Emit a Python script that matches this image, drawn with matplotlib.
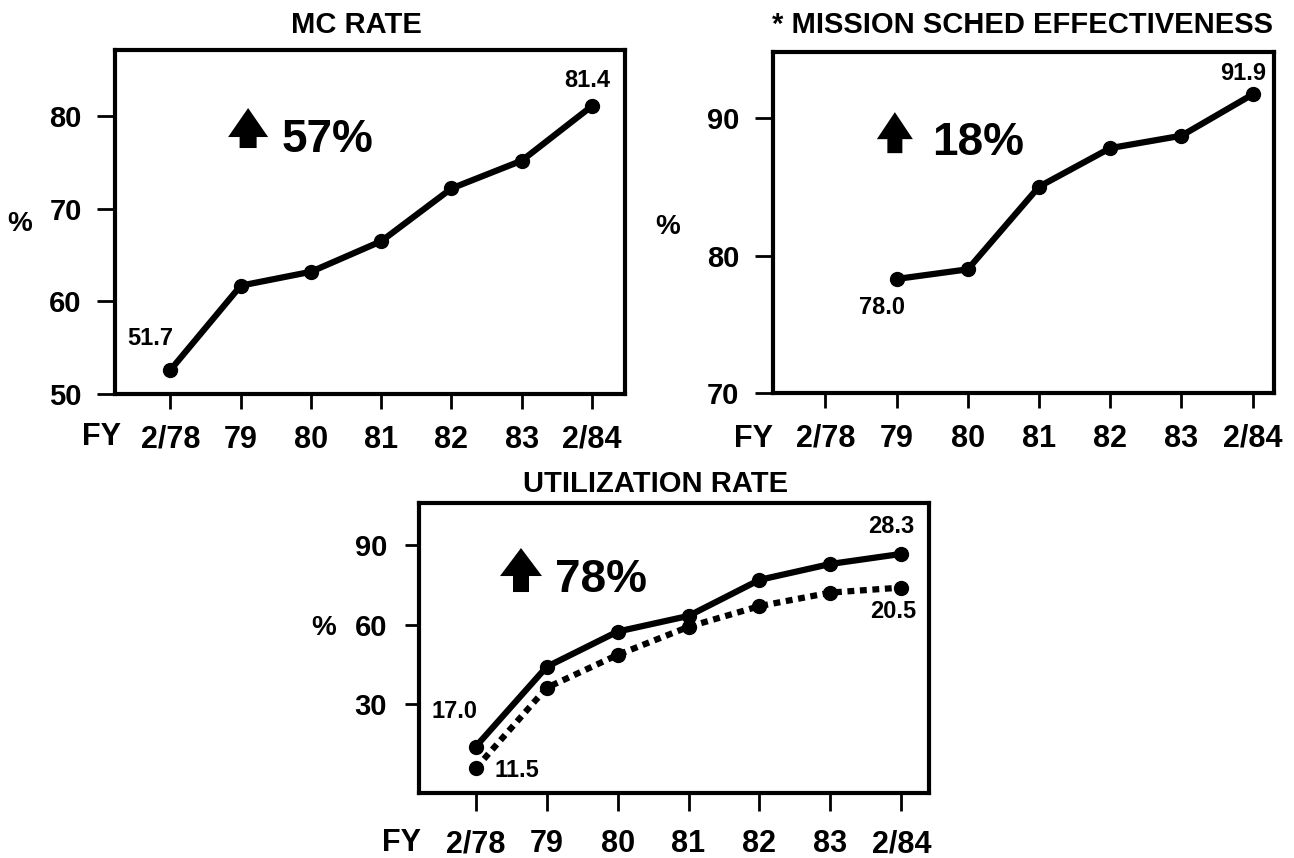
import matplotlib
matplotlib.use("Agg")
import matplotlib.pyplot as plt
import numpy as np
from matplotlib.patches import FancyArrow

plt.rcParams['font.family'] = ['Liberation Sans Narrow', 'Liberation Sans', 'DejaVu Sans']
plt.rcParams['font.weight'] = 'bold'

years = ['2/78', '79', '80', '81', '82', '83', '2/84']
mc_rate = [52.6, 61.7, 63.2, 66.5, 72.2, 75.2, 81.1]
mission_sched = [np.nan, 78.3, 79.0, 85.0, 87.8, 88.7, 91.7]
util_solid = [14.0, 44.1, 57.4, 63.3, 76.9, 82.9, 86.7]
util_dotted = [5.8, 36.2, 48.6, 59.2, 67.0, 72.1, 74.0]

W, H = 1294, 858
fig = plt.figure(figsize=(W / 100, H / 100), dpi=100)
x = np.arange(len(years))


def px_axes(left, top, right, bottom):
    # axes box given in pixels of the final image
    return fig.add_axes([left / W, 1 - bottom / H, (right - left) / W, (bottom - top) / H])


def style(ax, xlim, ylim, yticks, ylen, ypad, xlen, xpad):
    ax.set_xlim(xlim)
    ax.set_ylim(ylim)
    ax.set_xticks(x)
    ax.set_xticklabels(years, fontsize=22)
    ax.set_yticks(yticks)
    ax.tick_params(axis='y', labelsize=21, length=ylen, width=2, pad=ypad, direction='out')
    ax.tick_params(axis='x', length=xlen, width=2, pad=xpad, direction='out')
    for s in ax.spines.values():
        s.set_linewidth(3)


def up_arrow(ax, cx, by, h, head_w, head_l, stem):
    bb = ax.get_position()
    aw, ah = bb.width * W, bb.height * H
    ax.add_patch(FancyArrow(cx, by, 0, h / ah, width=stem / aw, head_width=head_w / aw,
                            head_length=head_l / ah, length_includes_head=True,
                            transform=ax.transAxes, color='black', lw=0, clip_on=False))


def label(ax, text, xv, yv, dx, dy):
    ax.annotate(text, (xv, yv), xytext=(dx, dy), textcoords='offset pixels',
                ha='center', va='center', fontsize=17)


line_kw = dict(color='black', lw=4.5, marker='o', markersize=10)

# MC RATE
ax1 = px_axes(115, 50, 625, 394)
ax1.plot(x, mc_rate, **line_kw)
style(ax1, (-0.79, 6.47), (50, 87.15), [50, 60, 70, 80], 13, 11, 11, 11)
label(ax1, '51.7', x[0], mc_rate[0], -20, 31)
label(ax1, '81.4', x[-1], mc_rate[-1], -5, 26)
up_arrow(ax1, 0.261, 0.715, 40, 40, 29, 17)
ax1.text(0.327, 0.703, '57%', transform=ax1.transAxes, fontsize=33, va='baseline')
fig.text(356 / W, 1 - 33 / H, 'MC RATE', ha='center', va='baseline', fontsize=21)
fig.text(20 / W, 1 - 224 / H, '%', ha='center', va='center', fontsize=20)
fig.text(101 / W, 1 - 437 / H, 'FY', ha='center', va='center', fontsize=22)

# MISSION SCHED EFFECTIVENESS
ax2 = px_axes(772.5, 51.7, 1274, 393.3)
ax2.plot(x, mission_sched, **line_kw)
style(ax2, (-0.743, 6.30), (70, 94.8), [70, 80, 90], 13, 11, 11, 11)
label(ax2, '78.0', x[1], mission_sched[1], -15, -29)
label(ax2, '91.9', x[-1], mission_sched[-1], -10, 21)
up_arrow(ax2, 0.244, 0.703, 41, 36, 27, 15)
ax2.text(0.318, 0.698, '18%', transform=ax2.transAxes, fontsize=33, va='baseline')
fig.text(1023 / W, 1 - 33 / H, '* MISSION SCHED EFFECTIVENESS', ha='center', va='baseline', fontsize=21)
fig.text(668 / W, 1 - 227 / H, '%', ha='center', va='center', fontsize=20)
fig.text(754 / W, 1 - 439 / H, 'FY', ha='center', va='center', fontsize=22)

# UTILIZATION RATE
ax3 = px_axes(419, 503, 929, 793)
ax3.plot(x, util_solid, **line_kw)
ax3.plot(x, util_dotted, linestyle=(0, (1.1, 0.9)), **line_kw)
style(ax3, (-0.80, 6.39), (-3.5, 105.9), [30, 60, 90], 10, 13, 13, 13)
label(ax3, '17.0', x[0], util_solid[0], -21, 35)
label(ax3, '11.5', x[0], util_dotted[0], 41, -2)
label(ax3, '28.3', x[-1], util_solid[-1], -10, 27)
label(ax3, '20.5', x[-1], util_dotted[-1], -8, -24)
up_arrow(ax3, 0.2, 0.693, 44, 42, 28, 16)
ax3.text(0.267, 0.693, '78%', transform=ax3.transAxes, fontsize=33, va='baseline')
fig.text(656 / W, 1 - 492 / H, 'UTILIZATION RATE', ha='center', va='baseline', fontsize=21)
fig.text(324 / W, 1 - 628 / H, '%', ha='center', va='center', fontsize=20)
fig.text(401 / W, 1 - 843 / H, 'FY', ha='center', va='center', fontsize=22)

fig.savefig('out.png', dpi=100, facecolor='white')
